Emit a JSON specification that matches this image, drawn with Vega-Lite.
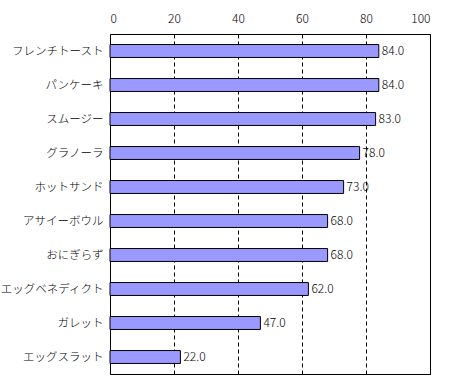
{
  "$schema": "https://vega.github.io/schema/vega-lite/v6.json",
  "width": 320,
  "height": 340,
  "autosize": {"type": "none"},
  "padding": {"left": 110, "top": 34, "right": 20, "bottom": 6},
  "background": "white",
  "config": {
    "font": "Noto Sans CJK JP",
    "view": {"stroke": "black", "strokeWidth": 1}
  },
  "data": {
    "values": [
      {"item": "フレンチトースト", "value": 84.0},
      {"item": "パンケーキ", "value": 84.0},
      {"item": "スムージー", "value": 83.0},
      {"item": "グラノーラ", "value": 78.0},
      {"item": "ホットサンド", "value": 73.0},
      {"item": "アサイーボウル", "value": 68.0},
      {"item": "おにぎらず", "value": 68.0},
      {"item": "エッグベネディクト", "value": 62.0},
      {"item": "ガレット", "value": 47.0},
      {"item": "エッグスラット", "value": 22.0}
    ]
  },
  "encoding": {
    "y": {
      "field": "item",
      "type": "nominal",
      "sort": null,
      "scale": {"paddingInner": 0.62, "paddingOuter": 0.31},
      "axis": {
        "title": null,
        "domain": false,
        "tickBand": "extent",
        "tickSize": -4,
        "tickWidth": 1,
        "tickColor": "black",
        "labelFontSize": 11.5,
        "labelFontWeight": 300,
        "labelColor": "black",
        "labelPadding": 11,
        "grid": false
      }
    },
    "x": {
      "field": "value",
      "type": "quantitative",
      "scale": {"domain": [0, 100], "nice": false},
      "axis": {
        "orient": "top",
        "title": null,
        "values": [0, 20, 40, 60, 80, 100],
        "domain": false,
        "ticks": false,
        "labelFontSize": 12,
        "labelFontWeight": 300,
        "labelColor": "black",
        "labelPadding": 9,
        "grid": true,
        "gridColor": "black",
        "gridDash": [4, 3],
        "gridOpacity": 1,
        "gridWidth": 1
      }
    }
  },
  "layer": [
    {
      "mark": {"type": "bar", "fill": "#9999FF", "stroke": "black", "strokeWidth": 1}
    },
    {
      "mark": {"type": "text", "align": "left", "baseline": "middle", "dx": 3, "fontSize": 12, "fontWeight": 300, "color": "black"},
      "encoding": {"text": {"field": "value", "type": "quantitative", "format": ".1f"}}
    }
  ]
}
